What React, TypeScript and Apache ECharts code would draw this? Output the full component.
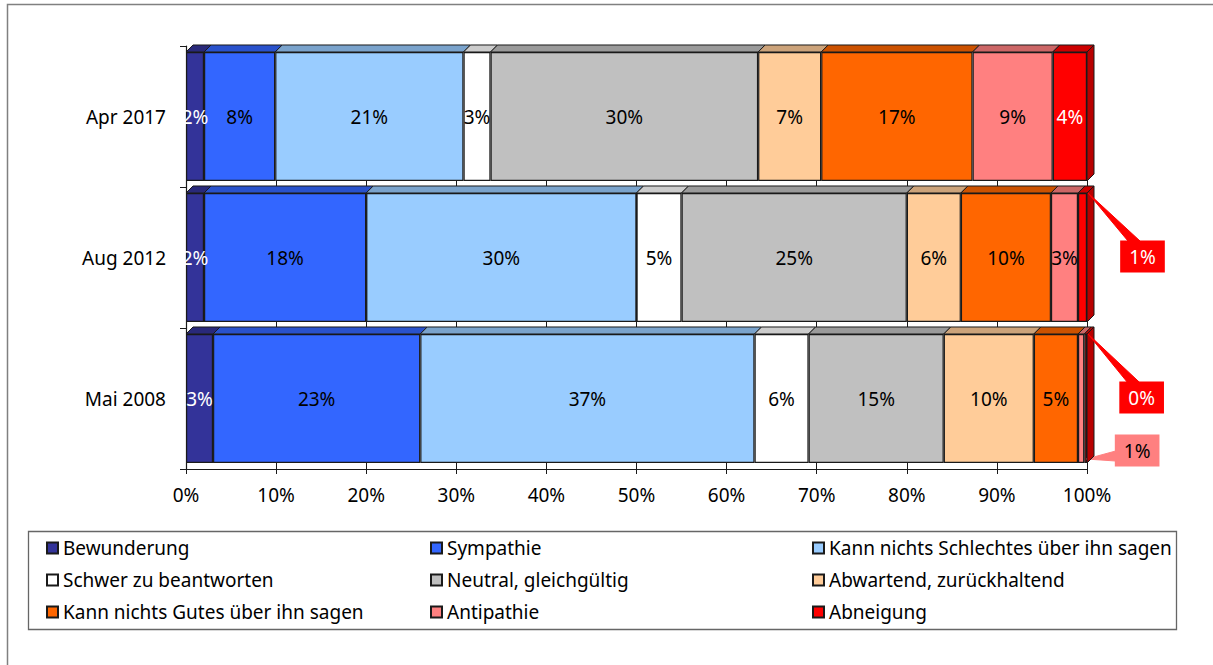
import React, { useEffect, useRef } from "react";
import * as echarts from "echarts";

const categories = ["Apr 2017", "Aug 2012", "Mai 2008"];
const seriesNames = [
  "Bewunderung",
  "Sympathie",
  "Kann nichts Schlechtes über ihn sagen",
  "Schwer zu beantworten",
  "Neutral, gleichgültig",
  "Abwartend, zurückhaltend",
  "Kann nichts Gutes über ihn sagen",
  "Antipathie",
  "Abneigung",
];
const colors = ["#333399", "#3366FF", "#99CCFF", "#FFFFFF", "#C0C0C0", "#FFCC99", "#FF6600", "#FF8080", "#FF0000"];

const bewunderung = [2, 2, 3];
const sympathie = [7.9, 18, 23];
const kannNichtsSchlechtes = [20.9, 30, 37.1];
const schwer = [3, 5, 6];
const neutral = [29.7, 25, 15];
const abwartend = [7, 6, 10];
const kannNichtsGutes = [16.8, 10, 4.9];
const antipathie = [8.9, 3, 0.7];
const abneigung = [3.8, 1, 0.3];

const seriesValues = [bewunderung, sympathie, kannNichtsSchlechtes, schwer, neutral, abwartend, kannNichtsGutes, antipathie, abneigung];
const xTicks = [0, 10, 20, 30, 40, 50, 60, 70, 80, 90, 100];

const FONT = "Noto Sans";
const FS = 19;
const GAP = 0.085;
const DEPTH = 7;
// label callouts: key "series-category" -> [dx, dy, kind]
const callouts: Record<string, [number, number, string]> = {
  "8-1": [60, -1, "top"],
  "8-2": [56, -1, "top"],
  "7-2": [56, 52, "side"],
};
const BOX_HW = 22.5;
const BOX_HH = 16.5;

function shade(hex: string, f: number) {
  const n = parseInt(hex.slice(1), 16);
  const r = Math.round(((n >> 16) & 255) * f);
  const g = Math.round(((n >> 8) & 255) * f);
  const b = Math.round((n & 255) * f);
  return `rgb(${r},${g},${b})`;
}

export default function App() {
  const ref = useRef<HTMLDivElement>(null);
  useEffect(() => {
    document.body.style.margin = "0";
    const chart = echarts.init(ref.current!, null, { renderer: "svg" });

    const faces: any[] = [];
    categories.forEach((_, ci) => {
      let acc = 0;
      seriesValues.forEach((vals, si) => {
        const start = acc;
        acc += vals[ci];
        faces.push([ci, start, acc, si, si === seriesValues.length - 1 ? 1 : 0]);
      });
    });

    const labelColor = (si: number) => (si === 0 || si === 8 ? "#FFFFFF" : "#000000");

    const barSeries = seriesNames.map((name, si) => {
      const data = seriesValues[si].map((v, ci) => {
        const item: any = { value: v };
        if (callouts[`${si}-${ci}`]) {
          item.label = {
            backgroundColor: colors[si],
            color: si === 8 ? "#FFFFFF" : "#000000",
            padding: [7, 9, 6, 9],
          };
        }
        return item;
      });
      const s: any = {
        name,
        type: "bar",
        stack: "total",
        barCategoryGap: GAP * 100 + "%",
        data,
        itemStyle: { color: colors[si], borderColor: "#1a1a1a", borderWidth: 1.2 },
        label: {
          show: true,
          position: "inside",
          fontFamily: FONT,
          fontSize: FS,
          color: labelColor(si),
          formatter: (p: any) => Math.round(p.value) + "%",
        },
        labelLayout: (p: any) => {
          const c = callouts[`${si}-${p.dataIndex}`];
          return c ? { dx: c[0], dy: c[1] } : {};
        },
        emphasis: { disabled: true },
      };
      return s;
    });

    const faceSeries: any = {
      name: "faces",
      type: "custom",
      clip: false,
      silent: true,
      encode: { x: [1, 2], y: 0 },
      data: faces,
      z: 3,
      renderItem: (params: any, api: any) => {
        const ci = api.value(0);
        const p0 = api.coord([api.value(1), ci]);
        const p1 = api.coord([api.value(2), ci]);
        const si = api.value(3);
        const last = api.value(4);
        const band = api.size([0, 1])[1];
        const bw = band * (1 - GAP);
        const top = p0[1] - bw / 2;
        const bottom = p0[1] + bw / 2;
        const x0 = p0[0];
        const x1 = p1[0];
        const children: any[] = [
          {
            type: "polygon",
            shape: { points: [[x0, top], [x1, top], [x1 + DEPTH, top - DEPTH], [x0 + DEPTH, top - DEPTH]] },
            style: { fill: shade(colors[si], 0.8), stroke: "#1a1a1a", lineWidth: 1 },
          },
        ];
        if (last) {
          children.push({
            type: "polygon",
            shape: { points: [[x1, top], [x1 + DEPTH, top - DEPTH], [x1 + DEPTH, bottom - DEPTH], [x1, bottom]] },
            style: { fill: shade(colors[si], 0.72), stroke: "#1a1a1a", lineWidth: 1 },
          });
        }
        const c = callouts[`${si}-${ci}`];
        if (c) {
          const bx = (x0 + x1) / 2 + c[0];
          const by = p0[1] + c[1];
          const left = bx - BOX_HW;
          const boxTop = by - BOX_HH;
          let pts: number[][];
          if (c[2] === "top") {
            pts = [[x1 + 1, top], [left + 8, boxTop + 1], [left + 20, boxTop + 1]];
          } else {
            pts = [[x1 + 2, bottom - 4], [left + 1, boxTop + 17], [left + 1, boxTop + 27]];
          }
          children.push({
            type: "polygon",
            shape: { points: pts },
            style: { fill: colors[si], stroke: colors[si], lineWidth: 1 },
          });
        }
        return { type: "group", children };
      },
    };

    const legendBase = {
      orient: "vertical",
      top: 538,
      padding: 0,
      itemWidth: 11,
      itemHeight: 11,
      itemGap: 12,
      icon: "rect",
      itemTextGap: 5,
      selectedMode: false,
      textStyle: { fontFamily: FONT, fontSize: FS, color: "#000", lineHeight: 20 },
    };

    chart.setOption({
      animation: false,
      textStyle: { fontFamily: FONT },
      grid: { left: 186, top: 46, width: 901, height: 423, containLabel: false },
      xAxis: {
        type: "value",
        min: xTicks[0],
        max: xTicks[xTicks.length - 1],
        interval: xTicks[1] - xTicks[0],
        axisLine: { show: true, lineStyle: { color: "#1a1a1a", width: 1.2 } },
        axisTick: { show: true, length: 5, lineStyle: { color: "#1a1a1a" } },
        axisLabel: { margin: 16, fontFamily: FONT, fontSize: FS, color: "#000", formatter: "{value}%" },
        splitLine: { show: true, lineStyle: { color: "#1a1a1a", width: 1 } },
      },
      yAxis: {
        type: "category",
        data: categories,
        inverse: true,
        axisLine: { show: true, lineStyle: { color: "#1a1a1a", width: 1.2 } },
        axisTick: { show: true, length: 6, lineStyle: { color: "#1a1a1a" } },
        axisLabel: { margin: 20, fontFamily: FONT, fontSize: FS, color: "#000" },
        splitLine: { show: false },
      },
      legend: [
        { ...legendBase, left: 46, data: [seriesNames[0], seriesNames[3], seriesNames[6]] },
        { ...legendBase, left: 430, data: [seriesNames[1], seriesNames[4], seriesNames[7]] },
        { ...legendBase, left: 812, data: [seriesNames[2], seriesNames[5], seriesNames[8]] },
      ],
      graphic: [
        {
          type: "rect",
          shape: { x: 7.5, y: 4.5, width: 1300, height: 800 },
          style: { fill: "none", stroke: "#808080", lineWidth: 1.5 },
          silent: true,
        },
        {
          type: "rect",
          shape: { x: 28.5, y: 531.5, width: 1148, height: 98 },
          style: { fill: "none", stroke: "#666666", lineWidth: 1.3 },
          silent: true,
        },
      ],
      series: [...barSeries, faceSeries],
    });
    return () => chart.dispose();
  }, []);
  return <div ref={ref} style={{ width: 1213, height: 665 }} />;
}
